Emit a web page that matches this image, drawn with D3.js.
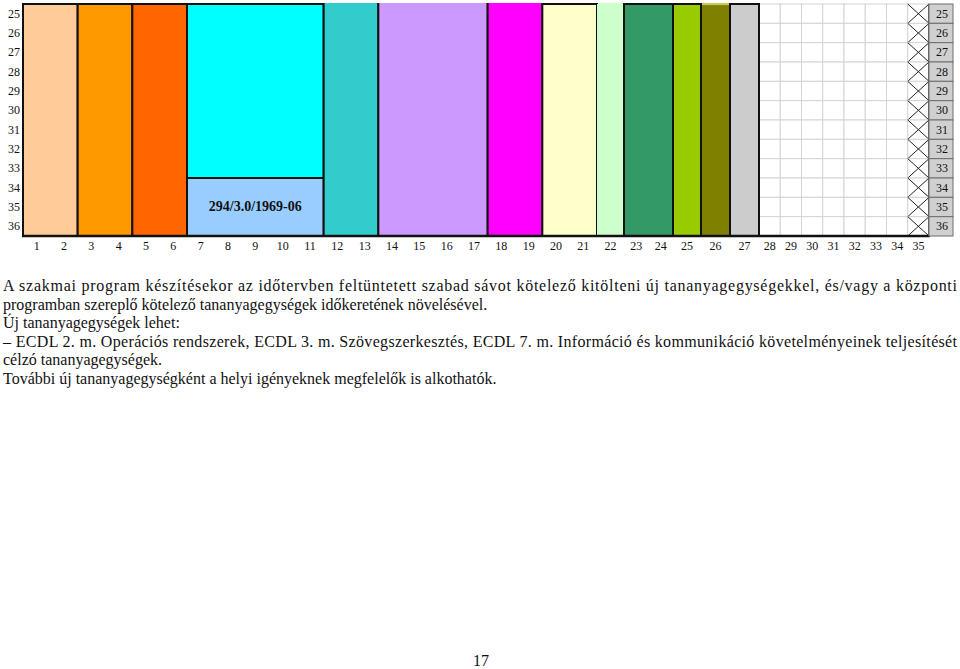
<!DOCTYPE html>
<html>
<head>
<meta charset="utf-8">
<script src="https://cdn.jsdelivr.net/npm/d3@7"></script>
<style>
  body { margin: 0; background: #fff; }
  svg text { font-family: "Liberation Serif", "Times New Roman", serif; fill: #111; }
</style>
</head>
<body>
<script>
var width = 960;
var height = 669;

// week numbers (x) and lesson rows (y)
var weeks = [1,2,3,4,5,6,7,8,9,10,11,12,13,14,15,16,17,18,19,20,21,22,23,24,25,26,27,28,29,30,31,32,33,34,35];
var rows = [25,26,27,28,29,30,31,32,33,34,35,36];

// colored blocks: first week, last week, first row, last row
var blockWeekFrom = [1, 3, 5, 7, 7, 12, 14, 18, 20, 22, 23, 25, 26, 27];
var blockWeekTo   = [2, 4, 6, 11, 11, 13, 17, 19, 21, 22, 24, 25, 26, 27];
var blockRowFrom  = [25, 25, 25, 25, 34, 25, 25, 25, 25, 25, 25, 25, 25, 25];
var blockRowTo    = [36, 36, 36, 33, 36, 36, 36, 36, 36, 36, 36, 36, 36, 36];
var blockColors   = ["#ffcc99", "#ff9900", "#ff6600", "#00ffff", "#99ccff", "#33cccc", "#cc99ff",
                     "#ff00ff", "#ffffcc", "#ccffcc", "#339966", "#99cc00", "#808000", "#cccccc"];
var blockLabels   = ["", "", "", "", "294/3.0/1969-06", "", "", "", "", "", "", "", "", ""];

// free weeks (empty grid) and the closing crossed week
var freeWeeks = [28, 29, 30, 31, 32, 33, 34];
var crossedWeek = 35;

var paragraphLines = [
  "A szakmai program készítésekor az időtervben feltüntetett szabad sávot kötelező kitölteni új tananyagegységekkel, és/vagy a központi",
  "programban szereplő kötelező tananyagegységek időkeretének növelésével.",
  "Új tananyagegységek lehet:",
  "– ECDL 2. m. Operációs rendszerek, ECDL 3. m. Szövegszerkesztés, ECDL 7. m. Információ és kommunikáció követelményeinek teljesítését",
  "célzó tananyagegységek.",
  "További új tananyagegységként a helyi igényeknek megfelelők is alkothatók."
];
var justified = [true, false, false, true, false, false];
var pageNumber = "17";

// which blocks have no dark outline on top (as in the scan)
var openTop = [5, 6, 7, 9, 12];

var svg = d3.select("body")
            .append("svg")
            .attr("width", width)
            .attr("height", height);

// week columns are not equally wide in the original table
var x = d3.scaleLinear()
          .domain([0.5, 21.5, 22.5, 24.5, 25.5, 26.5, 27.5, 35.5])
          .range([23, 597, 624, 673, 701, 730, 759, 929]);
var y = d3.scaleLinear()
          .domain([24.5, 36.5])
          .range([4, 236]);

var grid = svg.append("g");

// light grid under the free weeks
freeWeeks.forEach(function(w) {
  rows.forEach(function(r) {
    grid.append("rect")
      .attr("x", x(w - 0.5))
      .attr("y", y(r - 0.5))
      .attr("width", x(w + 0.5) - x(w - 0.5))
      .attr("height", y(r + 0.5) - y(r - 0.5))
      .style("fill", "#fff")
      .style("stroke", "#d4d4d4")
      .style("stroke-width", 1);
  });
});

// crossed cells
rows.forEach(function(r) {
  var x0 = x(crossedWeek - 0.5), x1 = x(crossedWeek + 0.5);
  var y0 = y(r - 0.5), y1 = y(r + 0.5);
  grid.append("rect")
    .attr("x", x0).attr("y", y0)
    .attr("width", x1 - x0).attr("height", y1 - y0)
    .style("fill", "#fff").style("stroke", "#d4d4d4");
  grid.append("line")
    .attr("x1", x0).attr("y1", y0).attr("x2", x1).attr("y2", y1)
    .style("stroke", "#222").style("stroke-width", 1);
  grid.append("line")
    .attr("x1", x0).attr("y1", y1).attr("x2", x1).attr("y2", y0)
    .style("stroke", "#222").style("stroke-width", 1);
});

// colored blocks
blockColors.forEach(function(color, i) {
  var x0 = x(blockWeekFrom[i] - 0.5), x1 = x(blockWeekTo[i] + 0.5);
  var y0 = y(blockRowFrom[i] - 0.5), y1 = y(blockRowTo[i] + 0.5);
  grid.append("rect")
    .attr("x", x0).attr("y", y0)
    .attr("width", x1 - x0).attr("height", y1 - y0)
    .style("fill", color)
    .style("stroke", i === 9 ? "none" : "#111")
    .style("stroke-width", 2);
  if (openTop.indexOf(i) >= 0) {
    grid.append("line")
      .attr("x1", x0 + 1).attr("y1", y0).attr("x2", x1 - 1).attr("y2", y0)
      .style("stroke", i === 12 ? "#c8c860" : color)
      .style("stroke-width", 2.2);
  }
  if (blockLabels[i]) {
    grid.append("text")
      .attr("x", (x0 + x1) / 2)
      .attr("y", (y0 + y1) / 2 + 1)
      .attr("text-anchor", "middle")
      .attr("dominant-baseline", "middle")
      .style("font-size", "14px")
      .style("font-weight", "bold")
      .text(blockLabels[i]);
  }
});

// left and bottom frame
grid.append("line")
  .attr("x1", x(0.5)).attr("y1", y(24.5)).attr("x2", x(0.5)).attr("y2", y(36.5))
  .style("stroke", "#111").style("stroke-width", 2);
grid.append("line")
  .attr("x1", x(0.5) - 1).attr("y1", y(36.5)).attr("x2", x(35.5) + 1).attr("y2", y(36.5))
  .style("stroke", "#111").style("stroke-width", 2.5);
grid.append("line")
  .attr("x1", x(35.5)).attr("y1", y(24.5)).attr("x2", x(35.5)).attr("y2", y(36.5))
  .style("stroke", "#333").style("stroke-width", 1.5);

// week labels under the table
svg.append("g").selectAll("text")
  .data(weeks)
  .enter().append("text")
  .attr("x", function(d) { return x(d); })
  .attr("y", 250)
  .attr("text-anchor", "middle")
  .style("font-size", "12px")
  .text(function(d) { return d; });

// row labels on the left
svg.append("g").selectAll("text")
  .data(rows)
  .enter().append("text")
  .attr("x", 20)
  .attr("y", function(d) { return y(d) + 4; })
  .attr("text-anchor", "end")
  .style("font-size", "12px")
  .text(function(d) { return d; });

// gray row labels on the right
var right = svg.append("g");
right.selectAll("rect")
  .data(rows)
  .enter().append("rect")
  .attr("x", x(35.5))
  .attr("y", function(d) { return y(d - 0.5); })
  .attr("width", 24)
  .attr("height", function(d) { return y(d + 0.5) - y(d - 0.5); })
  .style("fill", "#d0d0d0")
  .style("stroke", "#6e6e6e")
  .style("stroke-width", 1);
right.selectAll("text")
  .data(rows)
  .enter().append("text")
  .attr("x", x(35.5) + 13)
  .attr("y", function(d) { return y(d) + 4; })
  .attr("text-anchor", "middle")
  .style("font-size", "12px")
  .text(function(d) { return d; });

// paragraph under the chart
var para = svg.append("g");
paragraphLines.forEach(function(line, i) {
  var t = para.append("text")
    .attr("x", 3)
    .attr("y", 291 + i * 18.6)
    .style("font-size", "16px")
    .text(line);
  if (justified[i]) {
    t.attr("textLength", 954).attr("lengthAdjust", "spacing");
  }
});

svg.append("text")
  .attr("x", 481)
  .attr("y", 666)
  .attr("text-anchor", "middle")
  .style("font-size", "16px")
  .text(pageNumber);
</script>
</body>
</html>
